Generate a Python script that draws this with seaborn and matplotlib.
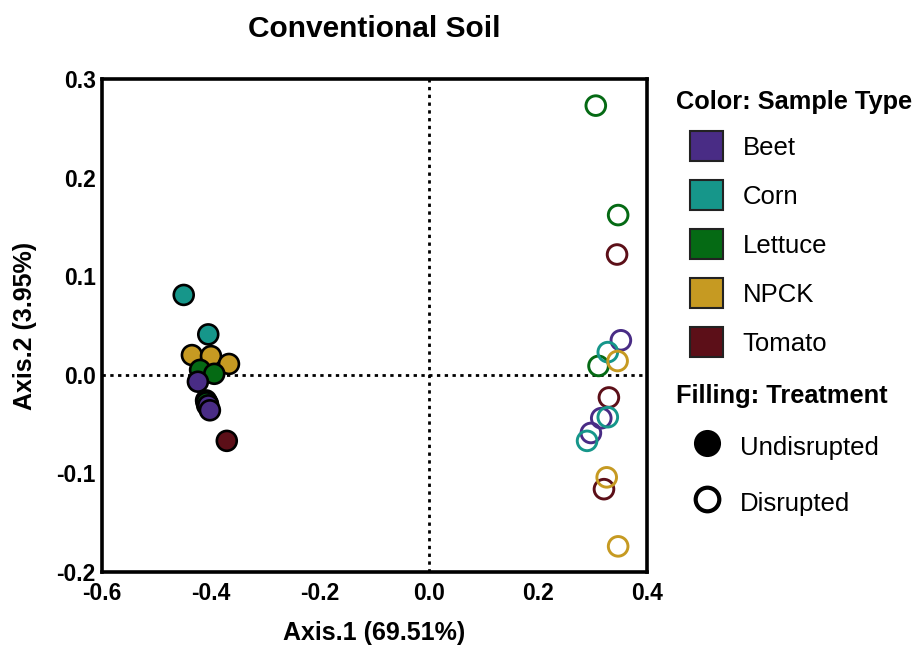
import numpy as np
import pandas as pd
import matplotlib
matplotlib.use("Agg")
import matplotlib.pyplot as plt
import seaborn as sns
from matplotlib.patches import Patch, Rectangle
from matplotlib.lines import Line2D
from matplotlib.legend_handler import HandlerPatch

# PCoA coordinates
sample_types = ["Beet", "Corn", "Lettuce", "NPCK", "Tomato"]
type_colors = ["#492C85", "#16968A", "#056A14", "#C69A22", "#5C0F18"]

# undisrupted (filled) - draw order matters for overlaps
und_type = ["Tomato", "Tomato", "Tomato", "Corn", "Corn", "Corn",
            "NPCK", "NPCK", "NPCK", "Lettuce", "Lettuce", "Lettuce",
            "Beet", "Beet", "Beet"]
und_x = [-0.371, -0.409, -0.406, -0.450, -0.405, -0.407,
         -0.435, -0.400, -0.367, -0.408, -0.420, -0.394,
         -0.405, -0.424, -0.402]
und_y = [-0.067, -0.026, -0.029, 0.081, 0.041, -0.031,
         0.020, 0.019, 0.011, -0.028, 0.005, 0.001,
         -0.031, -0.007, -0.036]

# disrupted (open)
dis_type = ["Lettuce", "Lettuce", "Lettuce", "Tomato", "Tomato", "Tomato",
            "Beet", "Beet", "Beet", "Corn", "Corn", "Corn",
            "NPCK", "NPCK", "NPCK"]
dis_x = [0.306, 0.347, 0.311, 0.345, 0.330, 0.321,
         0.352, 0.316, 0.297, 0.328, 0.328, 0.290,
         0.346, 0.326, 0.347]
dis_y = [0.273, 0.162, 0.009, 0.122, -0.023, -0.116,
         0.035, -0.044, -0.059, 0.023, -0.043, -0.067,
         0.014, -0.104, -0.174]

x_ticks = [-0.6, -0.4, -0.2, 0.0, 0.2, 0.4]
y_ticks = [-0.2, -0.1, 0.0, 0.1, 0.2, 0.3]

und = pd.DataFrame({"x": und_x, "y": und_y, "type": und_type})
dis = pd.DataFrame({"x": dis_x, "y": dis_y, "type": dis_type})
palette = dict(zip(sample_types, type_colors))

sns.set_style("white")
plt.rcParams["font.family"] = ["Liberation Sans", "DejaVu Sans"]
plt.rcParams["axes.unicode_minus"] = False
for k in ["text.color", "axes.labelcolor", "xtick.color", "ytick.color"]:
    plt.rcParams[k] = "black"

fig = plt.figure(figsize=(9.17, 6.45), dpi=100)
ax = fig.add_axes([0.1112, 0.1132, 0.5944, 0.7643])

ax.axhline(0, color="black", ls=(0, (1.2, 1.6)), lw=2, zorder=1)
ax.axvline(0, color="black", ls=(0, (1.2, 1.6)), lw=2, zorder=1)

sns.scatterplot(data=und, x="x", y="y", hue="type", palette=palette,
                s=205, edgecolor="black", linewidth=1.9, legend=False,
                ax=ax, zorder=3)
sns.scatterplot(data=dis, x="x", y="y", hue="type", palette=palette,
                s=200, linewidth=2.1, legend=False, ax=ax, zorder=3)
coll = ax.collections[-1]
coll.set_edgecolors(coll.get_facecolors())
coll.set_facecolors("none")

ax.set_xlim(-0.6, 0.4)
ax.set_ylim(-0.2, 0.3)
ax.set_xticks(x_ticks)
ax.set_yticks(y_ticks)
ax.set_xticklabels([f"{v:.1f}" for v in x_ticks], fontweight="bold", fontsize=16.5)
ax.set_yticklabels([f"{v:.1f}" for v in y_ticks], fontweight="bold", fontsize=16.5)
ax.tick_params(direction="in", length=7, width=2.5)
ax.tick_params(axis="x", pad=7)
ax.tick_params(axis="y", pad=4.5)
for sp in ax.spines.values():
    sp.set_linewidth(2.6)
    sp.set_color("black")

ax.set_xlabel("Axis.1 (69.51%)", fontweight="bold", fontsize=18, labelpad=12)
ax.set_ylabel("Axis.2 (3.95%)", fontweight="bold", fontsize=18, labelpad=14)
ax.set_title("Conventional Soil", fontweight="bold", fontsize=21.5, pad=30)


def indented_square(legend, orig_handle, xdescent, ydescent, width, height, fontsize):
    off = width * 0.3
    h = height * 0.89
    return Rectangle((-xdescent + off, -ydescent + (height - h) / 2),
                     width - off, h)


color_handles = [Patch(facecolor=c, edgecolor="#222222", linewidth=1.5)
                 for c in type_colors]
leg1 = fig.legend(color_handles, sample_types, loc="upper left",
                  bbox_to_anchor=(0.737, 0.86), frameon=False, fontsize=18.5,
                  title="Color: Sample Type",
                  title_fontproperties={"weight": "bold", "size": 18.3},
                  handlelength=1.85, handleheight=1.64, labelspacing=0.595,
                  handletextpad=0.75, borderaxespad=0, borderpad=0,
                  handler_map={Patch: HandlerPatch(patch_func=indented_square)})
leg1._legend_box.align = "left"

fill_handles = [
    Line2D([], [], marker="o", ls="none", markersize=17,
           markerfacecolor="black", markeredgecolor="black", markeredgewidth=2.5),
    Line2D([], [], marker="o", ls="none", markersize=17,
           markerfacecolor="white", markeredgecolor="black", markeredgewidth=3),
]
leg2 = fig.legend(fill_handles, ["Undisrupted", "Disrupted"], loc="upper left",
                  bbox_to_anchor=(0.737, 0.405), frameon=False, fontsize=18.5,
                  title="Filling: Treatment",
                  title_fontproperties={"weight": "bold", "size": 18.3},
                  labelspacing=0.866, handlelength=2.41, handleheight=1.64,
                  handletextpad=0.1, borderaxespad=0, borderpad=0)
leg2._legend_box.align = "left"

fig.savefig("out.png", dpi=100)
